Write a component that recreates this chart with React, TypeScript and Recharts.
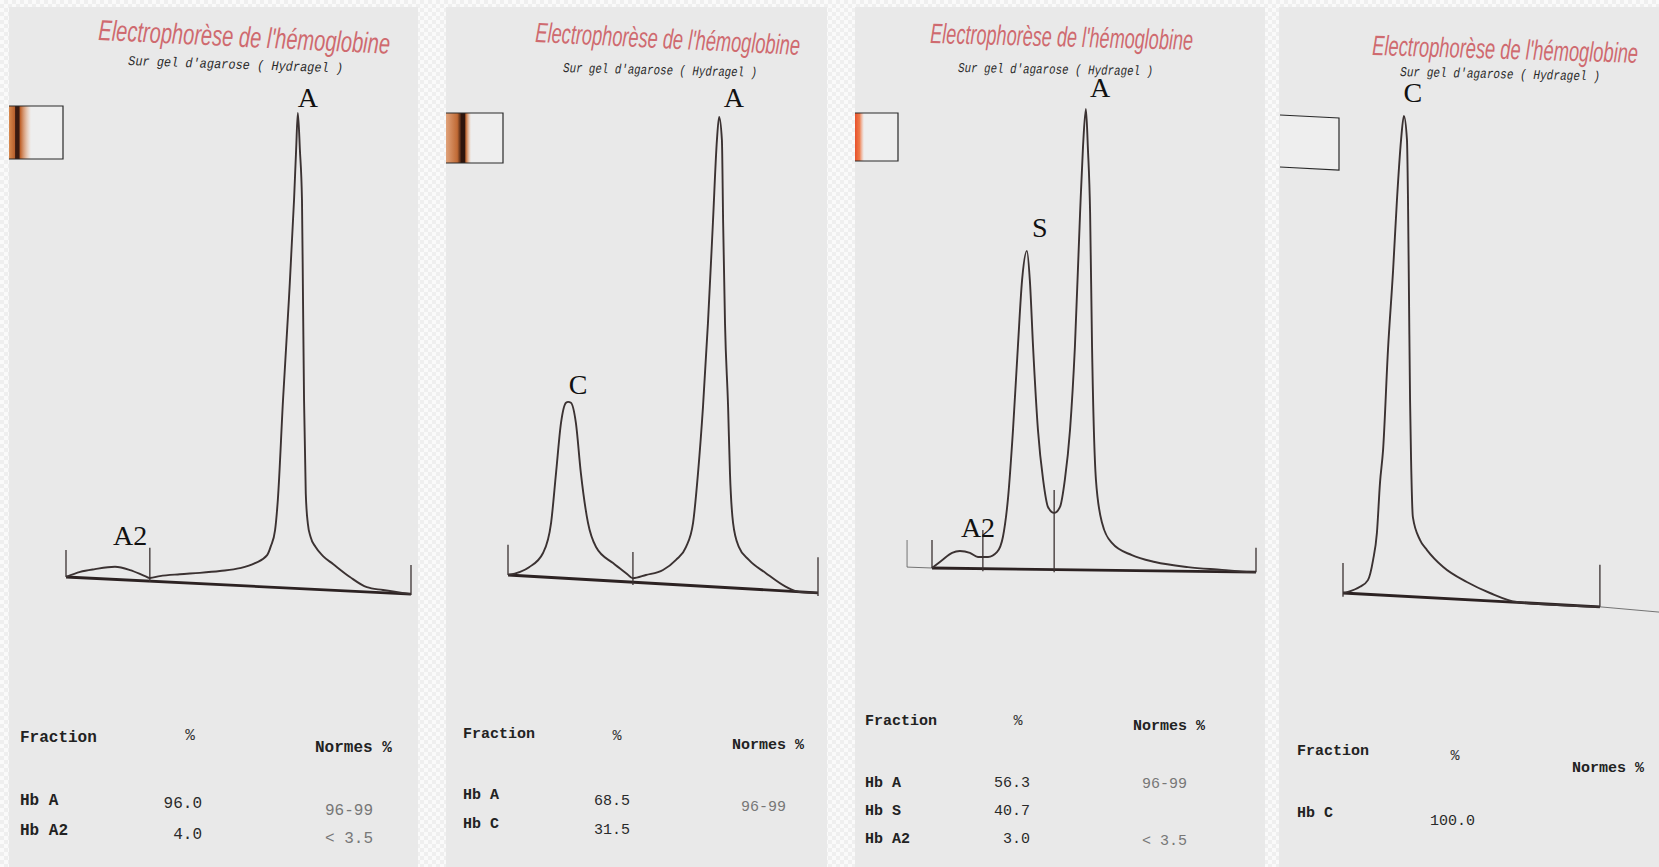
import React from "react";
import { ComposedChart, Line, Scatter, XAxis, YAxis, ReferenceLine } from "recharts";

const W = 1659;
const H = 867;

// scan traces: x = migration (0..100 between end markers), y = density (100 = tallest peak)
const trace1 = [
  { x: 0, y: 0 }, { x: 4.1, y: 1.1 }, { x: 8.4, y: 1.7 }, { x: 14.2, y: 2.2 }, { x: 18.6, y: 1.5 },
  { x: 22.9, y: 0.2 }, { x: 24.3, y: -0.2 }, { x: 27.2, y: 0.2 }, { x: 33.0, y: 0.6 }, { x: 38.8, y: 0.9 },
  { x: 44.6, y: 1.3 }, { x: 50.4, y: 1.9 }, { x: 54.8, y: 3.0 }, { x: 58.3, y: 4.7 }, { x: 59.4, y: 6.7 },
  { x: 60.6, y: 10.1 }, { x: 61.4, y: 16.6 }, { x: 62.9, y: 38.1 }, { x: 64.6, y: 59.7 }, { x: 66.1, y: 81.3 },
  { x: 66.7, y: 92.0 }, { x: 67.2, y: 100 }, { x: 67.8, y: 92.0 }, { x: 68.4, y: 81.3 }, { x: 68.7, y: 59.7 },
  { x: 69.0, y: 38.1 }, { x: 69.5, y: 18.0 }, { x: 70.1, y: 11.5 }, { x: 70.9, y: 8.6 }, { x: 72.3, y: 6.5 },
  { x: 74.5, y: 4.5 }, { x: 77.4, y: 2.8 }, { x: 82.3, y: 0 }, { x: 87.2, y: -2.2 }, { x: 91.9, y: -2.8 },
  { x: 100, y: -3.7 },
];
const baseline1 = [{ x: 0, y: 0 }, { x: 100, y: -3.7 }];
const markers1 = [
  { x1: 0, y1: 5.8, x2: 0, y2: 0 },
  { x1: 24.3, y1: 6.3, x2: 24.3, y2: -1.1 },
  { x1: 100, y1: 2.6, x2: 100, y2: -3.9 },
];
const peaks1 = [{ name: "A", x: 70.1, y: 101.3 }, { name: "A2", x: 18.6, y: 6.9 }];
const fractions1 = ["Hb A", "Hb A2"];
const percents1 = ["96.0", "4.0"];
const norms1 = ["96-99", "< 3.5"];

const trace2 = [
  { x: 0, y: 0 }, { x: 6.8, y: 1.7 }, { x: 11.3, y: 4.8 }, { x: 13.9, y: 11.4 }, { x: 15.5, y: 22.3 },
  { x: 17.1, y: 33.2 }, { x: 18.7, y: 37.6 }, { x: 19.4, y: 37.8 }, { x: 20.3, y: 37.6 }, { x: 21.9, y: 33.2 },
  { x: 23.5, y: 22.3 }, { x: 25.8, y: 11.4 }, { x: 28.4, y: 6.1 }, { x: 33.9, y: 2.6 }, { x: 38.1, y: 0.4 },
  { x: 40.3, y: -0.7 }, { x: 44.5, y: 0 }, { x: 50.0, y: 1.1 }, { x: 54.2, y: 3.3 }, { x: 57.4, y: 6.1 },
  { x: 59.7, y: 11.4 }, { x: 61.3, y: 22.3 }, { x: 62.9, y: 36.7 }, { x: 64.5, y: 55.0 }, { x: 66.1, y: 76.9 },
  { x: 67.4, y: 95.0 }, { x: 68.1, y: 100 }, { x: 69.0, y: 95.0 }, { x: 69.4, y: 76.9 }, { x: 70.0, y: 55.0 },
  { x: 71.0, y: 36.7 }, { x: 71.6, y: 22.3 }, { x: 72.6, y: 11.4 }, { x: 74.5, y: 6.1 }, { x: 77.7, y: 3.3 },
  { x: 83.2, y: 0.4 }, { x: 89.7, y: -2.6 }, { x: 93.9, y: -3.7 }, { x: 100, y: -3.9 },
];
const baseline2 = [{ x: 0, y: 0 }, { x: 100, y: -3.9 }];
const markers2 = [
  { x1: 0, y1: 6.6, x2: 0, y2: 0 },
  { x1: 40.3, y1: 5.0, x2: 40.3, y2: -2.2 },
  { x1: 100, y1: 3.9, x2: 100, y2: -4.6 },
];
const peaks2 = [{ name: "A", x: 72.9, y: 102.2 }, { name: "C", x: 22.6, y: 39.5 }];
const fractions2 = ["Hb A", "Hb C"];
const percents2 = ["68.5", "31.5"];
const norms2 = ["96-99", ""];

const trace3 = [
  { x: 0, y: 0 }, { x: 3.1, y: 1.7 }, { x: 6.2, y: 3.3 }, { x: 8.6, y: 3.7 }, { x: 11.7, y: 3.3 },
  { x: 14.2, y: 2.4 }, { x: 17.3, y: 2.4 }, { x: 20.1, y: 3.5 }, { x: 21.9, y: 6.8 }, { x: 23.5, y: 15.5 },
  { x: 25.0, y: 30.1 }, { x: 26.5, y: 48.1 }, { x: 27.8, y: 62.7 }, { x: 29.3, y: 69.1 }, { x: 30.2, y: 62.7 },
  { x: 31.2, y: 48.1 }, { x: 32.7, y: 30.1 }, { x: 34.3, y: 19.2 }, { x: 35.8, y: 13.3 }, { x: 37.7, y: 12.0 },
  { x: 39.5, y: 13.3 }, { x: 41.0, y: 19.2 }, { x: 42.6, y: 30.1 }, { x: 44.1, y: 48.1 }, { x: 45.7, y: 77.3 },
  { x: 46.6, y: 91.7 }, { x: 47.5, y: 100 }, { x: 48.1, y: 91.7 }, { x: 48.8, y: 77.3 }, { x: 49.4, y: 48.1 },
  { x: 50.6, y: 19.2 }, { x: 52.5, y: 9.8 }, { x: 55.6, y: 5.4 }, { x: 61.7, y: 2.8 }, { x: 68.8, y: 1.3 },
  { x: 79.0, y: 0.2 }, { x: 89.5, y: -0.4 }, { x: 98.1, y: -0.9 }, { x: 100, y: -0.9 },
];
const baseline3 = [{ x: 0, y: 0 }, { x: 100, y: -0.9 }];
const markers3 = [
  { x1: 0, y1: 6.1, x2: 0, y2: 0 },
  { x1: 15.7, y1: 8.3, x2: 15.7, y2: -0.7 },
  { x1: 37.7, y1: 17.0, x2: 37.7, y2: -0.9 },
  { x1: 100, y1: 4.4, x2: 100, y2: -0.9 },
];
const guides3 = [
  { x1: -7.7, y1: 6.1, x2: -7.7, y2: 0.2 },
  { x1: -7.7, y1: 0.2, x2: 0, y2: 0 },
];
const peaks3 = [
  { name: "A", x: 51.9, y: 102.6 },
  { name: "S", x: 33.3, y: 72.1 },
  { name: "A2", x: 14.2, y: 6.8 },
];
const fractions3 = ["Hb A", "Hb S", "Hb A2"];
const percents3 = ["56.3", "40.7", "3.0"];
const norms3 = ["96-99", "", "< 3.5"];

const trace4 = [
  { x: 0, y: 0 }, { x: 1.6, y: 0.2 }, { x: 6.6, y: 1.3 }, { x: 9.7, y: 2.7 }, { x: 11.7, y: 6.9 },
  { x: 13.2, y: 12.6 }, { x: 14.4, y: 23.1 }, { x: 15.6, y: 30.0 }, { x: 17.5, y: 50.9 }, { x: 19.5, y: 67.7 },
  { x: 21.0, y: 82.4 }, { x: 22.6, y: 95.0 }, { x: 23.7, y: 100 }, { x: 24.9, y: 95.0 }, { x: 25.3, y: 82.4 },
  { x: 25.7, y: 61.4 }, { x: 26.1, y: 40.5 }, { x: 26.5, y: 27.9 }, { x: 27.2, y: 15.9 }, { x: 30.0, y: 11.1 },
  { x: 32.7, y: 9.0 }, { x: 38.9, y: 5.5 }, { x: 48.2, y: 2.3 }, { x: 57.2, y: 0 }, { x: 67.7, y: -1.9 },
  { x: 100, y: -2.9 },
];
const baseline4 = [{ x: 0, y: 0 }, { x: 100, y: -2.9 }];
const markers4 = [
  { x1: 0, y1: 6.3, x2: 0, y2: -0.8 },
  { x1: 100, y1: 5.9, x2: 100, y2: -2.9 },
];
const guides4 = [{ x1: 100, y1: -2.9, x2: 123, y2: -4.0 }];
const peaks4 = [{ name: "C", x: 27.2, y: 102.9 }];
const fractions4 = ["Hb C"];
const percents4 = ["100.0"];
const norms4 = [""];

const INK = "#3b3232";
const TITLE = "Electrophorèse de l'hémoglobine";
const TITLE_EM = 14.53; // natural width of the title in em (Liberation Sans)

const panels = [
  {
    left: 9, width: 409, xDomain: [0, 100], plotX: [66, 411], y0: 577, ppu: 4.64,
    trace: trace1, baseline: baseline1, markers: markers1, guides: [], peaks: peaks1,
    title: { x: 98, y: 40, len: 292, angle: 2.7, size: 29 },
    sub: { x: 128, y: 65, len: 215, angle: 2.0 },
    box: { x1: 9, x2: 63, tl: 106, tr: 106, bl: 159, br: 159, band: 22, grad: "bandDark" },
    table: {
      size: 16, fraction: [20, 742], pct: [190, 740], normes: [315, 752],
      labelX: 20, valueEnd: 202, normX: 325,
      rowY: [805, 835], valueY: [808, 839], normY: [815, 843],
      fractions: fractions1, percents: percents1, norms: norms1,
    },
  },
  {
    left: 446, width: 381, xDomain: [0, 100], plotX: [508, 818], y0: 575, ppu: 4.58,
    trace: trace2, baseline: baseline2, markers: markers2, guides: [], peaks: peaks2,
    title: { x: 535, y: 42, len: 265, angle: 2.8, size: 28 },
    sub: { x: 563, y: 72, len: 194, angle: 1.4 },
    box: { x1: 446, x2: 503, tl: 113, tr: 113, bl: 163, br: 163, band: 25, grad: "bandDark2" },
    table: {
      size: 15, fraction: [463, 738], pct: [617, 740], normes: [732, 749],
      labelX: 463, valueEnd: 630, normX: 741,
      rowY: [799, 828], valueY: [805, 834], normY: [811, 838],
      fractions: fractions2, percents: percents2, norms: norms2,
    },
  },
  {
    left: 855, width: 410, xDomain: [-10, 100], plotX: [899.6, 1256], y0: 568, ppu: 4.59,
    trace: trace3, baseline: baseline3, markers: markers3, guides: guides3, peaks: peaks3,
    title: { x: 930, y: 43, len: 263, angle: 1.5, size: 28 },
    sub: { x: 958, y: 72, len: 195, angle: 1.0 },
    box: { x1: 855, x2: 898, tl: 113, tr: 113, bl: 161, br: 161, band: 9, grad: "bandRed" },
    table: {
      size: 15, fraction: [865, 725], pct: [1018, 725], normes: [1133, 730],
      labelX: 865, valueEnd: 1030, normX: 1142,
      rowY: [787, 815, 843], valueY: [787, 815, 843], normY: [788, 816, 845],
      fractions: fractions3, percents: percents3, norms: norms3,
    },
  },
  {
    left: 1279, width: 380, xDomain: [0, 123], plotX: [1343, 1659], y0: 593, ppu: 4.77,
    trace: trace4, baseline: baseline4, markers: markers4, guides: guides4, peaks: peaks4,
    title: { x: 1372, y: 55, len: 266, angle: 1.7, size: 28 },
    sub: { x: 1400, y: 76, len: 200, angle: 1.3 },
    box: { x1: 1280, x2: 1339, tl: 115, tr: 118, bl: 167, br: 170, band: 0, grad: "" },
    table: {
      size: 15, fraction: [1297, 755], pct: [1455, 760], normes: [1572, 772],
      labelX: 1297, valueEnd: 1475, normX: 1580,
      rowY: [817], valueY: [825], normY: [825],
      fractions: fractions4, percents: percents4, norms: norms4,
    },
  },
];

const PeakLabel = (props: any) => (
  <text
    x={props.cx}
    y={props.cy}
    textAnchor="middle"
    fontFamily='"Liberation Serif", "Times New Roman", serif'
    fontSize={28}
    fill="#111"
  >
    {props.payload.name}
  </text>
);

function Scan({ p }: { p: any }) {
  const margin = {
    top: p.y0 - 110 * p.ppu,
    bottom: H - (p.y0 + 10 * p.ppu),
    left: p.plotX[0] - p.left,
    right: p.left + p.width - p.plotX[1],
  };
  return (
    <div style={{ position: "absolute", left: p.left, top: 0 }}>
      <ComposedChart width={p.width} height={H} margin={margin}>
        <XAxis type="number" dataKey="x" domain={p.xDomain} allowDataOverflow hide />
        <YAxis type="number" dataKey="y" domain={[-10, 110]} allowDataOverflow hide />
        {p.guides.map((g: any, i: number) => (
          <ReferenceLine
            key={"g" + i}
            segment={[{ x: g.x1, y: g.y1 }, { x: g.x2, y: g.y2 }]}
            stroke="#555"
            strokeWidth={0.8}
            ifOverflow="visible"
          />
        ))}
        <Line
          data={p.baseline}
          dataKey="y"
          type="linear"
          dot={false}
          stroke="#2c2222"
          strokeWidth={2.8}
          isAnimationActive={false}
        />
        {p.markers.map((m: any, i: number) => (
          <ReferenceLine
            key={"m" + i}
            segment={[{ x: m.x1, y: m.y1 }, { x: m.x2, y: m.y2 }]}
            stroke={INK}
            strokeWidth={1.3}
            ifOverflow="visible"
          />
        ))}
        <Line
          data={p.trace}
          dataKey="y"
          type="monotone"
          dot={false}
          stroke={INK}
          strokeWidth={1.9}
          isAnimationActive={false}
        />
        <Scatter data={p.peaks} dataKey="y" shape={PeakLabel} isAnimationActive={false} />
      </ComposedChart>
    </div>
  );
}

function Overlay() {
  const mono = '"Liberation Mono", "Courier New", monospace';
  return (
    <svg
      width={W}
      height={H}
      style={{ position: "absolute", left: 0, top: 0, pointerEvents: "none" }}
    >
      <defs>
        <linearGradient id="bandDark" x1="0" x2="1" y1="0" y2="0">
          <stop offset="0%" stopColor="#d98a4e" />
          <stop offset="25%" stopColor="#b8612e" />
          <stop offset="30%" stopColor="#3a1a10" />
          <stop offset="45%" stopColor="#3a1a10" />
          <stop offset="52%" stopColor="#c0642e" />
          <stop offset="100%" stopColor="#e8a070" stopOpacity={0} />
        </linearGradient>
        <linearGradient id="bandDark2" x1="0" x2="1" y1="0" y2="0">
          <stop offset="0%" stopColor="#e0a27a" />
          <stop offset="45%" stopColor="#c06a35" />
          <stop offset="62%" stopColor="#2e140c" />
          <stop offset="74%" stopColor="#2e140c" />
          <stop offset="80%" stopColor="#c46a34" />
          <stop offset="100%" stopColor="#e8a070" stopOpacity={0} />
        </linearGradient>
        <linearGradient id="bandRed" x1="0" x2="1" y1="0" y2="0">
          <stop offset="0%" stopColor="#e8502a" />
          <stop offset="50%" stopColor="#ee7a4a" />
          <stop offset="100%" stopColor="#f0a080" stopOpacity={0} />
        </linearGradient>
      </defs>
      {panels.map((p, i) => {
        const t = p.title;
        const s = p.sub;
        const b = p.box;
        const tb = p.table;
        const sx = t.len / (TITLE_EM * t.size);
        return (
          <g key={i}>
            <text
              transform={`translate(${t.x},${t.y}) rotate(${t.angle}) scale(${sx},1)`}
              fontFamily='"Liberation Sans", Arial, sans-serif'
              fontStyle="italic"
              fontSize={t.size}
              fill="#cf6a6f"
            >
              {TITLE}
            </text>
            <text
              transform={`translate(${s.x},${s.y}) rotate(${s.angle})`}
              fontFamily={mono}
              fontStyle="italic"
              fontSize={13.5}
              textLength={s.len}
              lengthAdjust="spacingAndGlyphs"
              fill="#2a2a2a"
            >
              Sur gel d'agarose ( Hydragel )
            </text>
            <path
              d={`M${b.x1},${b.tl} L${b.x2},${b.tr} L${b.x2},${b.br} L${b.x1},${b.bl} Z`}
              fill="#eeeeee"
              stroke="none"
            />
            {b.band > 0 && (
              <rect
                x={b.x1}
                y={b.tl}
                width={b.band}
                height={b.bl - b.tl}
                fill={`url(#${b.grad})`}
              />
            )}
            <path
              d={`M${b.x1},${b.tl} L${b.x2},${b.tr} L${b.x2},${b.br} L${b.x1},${b.bl}`}
              fill="none"
              stroke="#2a2a2a"
              strokeWidth={1.2}
            />
            <g fontFamily={mono} fontSize={tb.size}>
              <text x={tb.fraction[0]} y={tb.fraction[1]} fontWeight="bold" fill="#222">
                Fraction
              </text>
              <text x={tb.pct[0]} y={tb.pct[1]} textAnchor="middle" fill="#333">
                %
              </text>
              <text x={tb.normes[0]} y={tb.normes[1]} fontWeight="bold" fill="#222">
                Normes %
              </text>
              {tb.fractions.map((f, j) => (
                <g key={j}>
                  <text x={tb.labelX} y={tb.rowY[j]} fontWeight="bold" fill="#222">
                    {f}
                  </text>
                  <text x={tb.valueEnd} y={tb.valueY[j]} textAnchor="end" fill="#2a2a2a">
                    {tb.percents[j]}
                  </text>
                  <text x={tb.normX} y={tb.normY[j]} fill="#777">
                    {tb.norms[j]}
                  </text>
                </g>
              ))}
            </g>
          </g>
        );
      })}
    </svg>
  );
}

export default function App() {
  return (
    <div
      style={{
        position: "fixed",
        left: 0,
        top: 0,
        width: W,
        height: H,
        overflow: "hidden",
        backgroundColor: "#f8f8f8",
        backgroundImage: "repeating-conic-gradient(#efefef 0% 25%, #fafafa 0% 50%)",
        backgroundSize: "8px 8px",
      }}
    >
      {panels.map((p, i) => (
        <div
          key={"bg" + i}
          style={{
            position: "absolute",
            left: p.left,
            top: 7,
            width: p.width,
            height: H - 7,
            background: "#e9e9e9",
          }}
        />
      ))}
      {panels.map((p, i) => (
        <Scan key={i} p={p} />
      ))}
      <Overlay />
    </div>
  );
}
